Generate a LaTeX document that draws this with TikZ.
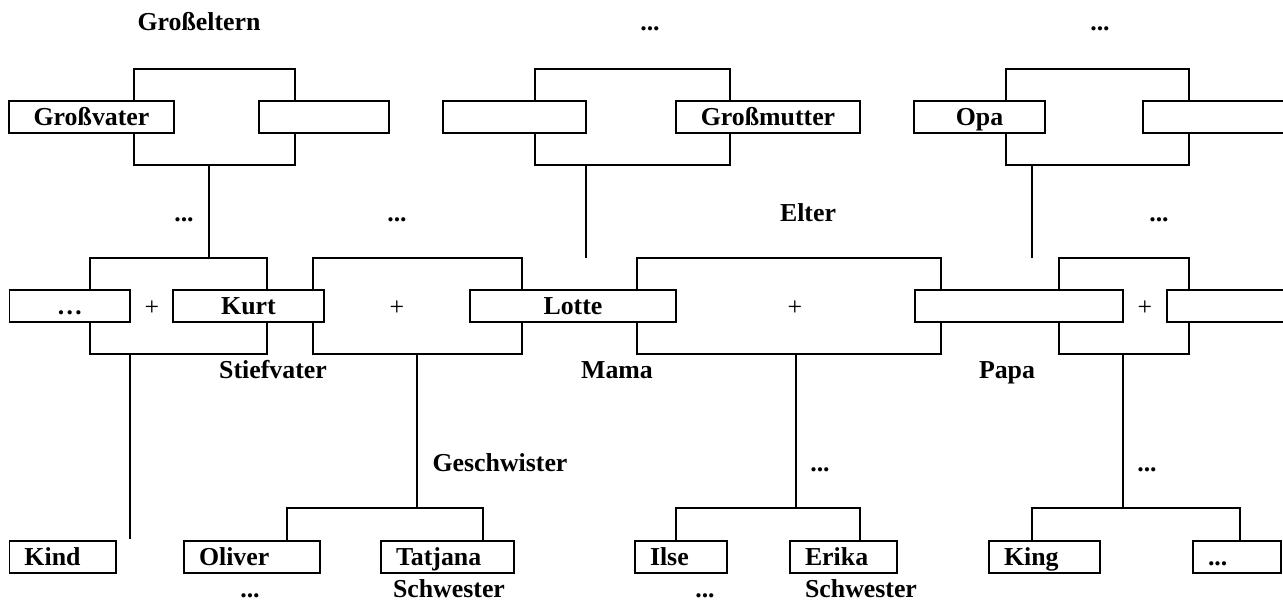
\documentclass[tikz,border=0pt]{standalone}
\usepackage{fontspec}
\setmainfont{Liberation Serif}
\usepackage{tikz}
\newcommand{\fsz}{\fontsize{14.7}{17}\selectfont}

\begin{document}
\begin{tikzpicture}[x=0.2mm, y=-0.2mm, line width=0.8pt,
    couple/.style={draw, minimum height=19.2mm, inner sep=0pt},
    box/.style={draw, fill=white, minimum height=6.4mm, inner sep=0pt,
      text height=9.7pt, text depth=0pt, font=\fsz\bfseries},
    kid/.style={box, align=left, inner xsep=3mm, text width=#1},
    lbl/.style={anchor=base, inner sep=0pt, font=\fsz\bfseries},
    plus/.style={inner sep=0pt, font=\fsz}]
      \useasboundingbox (0,0) rectangle (1283,600);
      \clip (0,0) rectangle (1283,600);

      % Großeltern
      \node[couple, minimum width=32.2mm] (gb1) at (214.5,117){};
      \node[couple, minimum width=39mm] (gb2) at (632.5,117){};
      \node[couple, minimum width=36.6mm] (gb3) at (1097.5,117){};
      \node[box, minimum width=33mm] (gv) at (91.5,117){Großvater};
      \node[box, minimum width=26mm] (gvx) at (324,117){};
      \node[box, minimum width=28.6mm] (gmx) at (514.5,117){};
      \node[box, minimum width=36.8mm] (gm) at (768,117){Großmutter};
      \node[box, minimum width=26.2mm] (opa) at (979.5,117){Opa};
      \node[box, minimum width=31.4mm] (omx) at (1221.5,117){};

      % Eltern
      \node[couple, minimum width=35.4mm] (mb1) at (178.5,306){};
      \node[couple, minimum width=41.8mm] (mb2) at (417.5,306){};
      \node[couple, minimum width=60.8mm] (mb3) at (789,306){};
      \node[couple, minimum width=26mm] (mb4) at (1124,306){};
      \node[box, minimum width=24.1mm] (ex) at (69.75,306){…};
      \node[box, minimum width=30.2mm] (kurt) at (248.5,306){Kurt};
      \node[box, minimum width=41.2mm] (lotte) at (573,306){Lotte};
      \node[box, minimum width=41.6mm] (papa) at (1019,306){};
      \node[box, minimum width=26.6mm] (px) at (1233.5,306){};
      \node[plus] (p1) at (152,308){+};
      \node[plus] (p2) at (397,308){+};
      \node[plus] (p3) at (795,308){+};
      \node[plus] (p4) at (1145,308){+};

      % Kinder
      \node[kid=15.3mm] (kind) at (62.75,557){Kind};
      \node[kid=21.2mm] (oliver) at (252,557){Oliver};
      \node[kid=20.6mm] (tatjana) at (447.5,557){Tatjana};
      \node[kid=12.4mm] (ilse) at (681,557){Ilse};
      \node[kid=15.4mm] (erika) at (843.5,557){Erika};
      \node[kid=16.2mm] (king) at (1044.5,557){King};
      \node[kid=11.6mm] (kx) at (1237,557){...};

      \coordinate (d1) at (209,0);
      \coordinate (e2) at (586,258);
      \coordinate (e3) at (1032,258);
      \coordinate (e4) at (130,539);
      \draw[-] (gb1.south -| d1) -- (mb1.north -| d1);
      \draw[-] (gb2.south -| e2) -- (e2);
      \draw[-] (gb3.south -| e3) -- (e3);
      \draw[-] (mb1.south -| e4) -- (e4);

      \coordinate (k2) at (417,508);
      \coordinate (k3) at (796,508);
      \coordinate (k4) at (1123,508);
      \coordinate (j1) at (287,508);
      \coordinate (j2) at (483,508);
      \coordinate (j3) at (676,508);
      \coordinate (j4) at (860,508);
      \coordinate (j5) at (1032,508);
      \coordinate (j6) at (1240,508);
      \draw[-] (mb2.south -| k2) -- (k2);
      \draw[-] (mb3.south -| k3) -- (k3);
      \draw[-] (mb4.south -| k4) -- (k4);
      \draw[-] (oliver.north -| j1) -- (j1) -- (j2) -- (tatjana.north -| j2);
      \draw[-] (ilse.north -| j3) -- (j3) -- (j4) -- (erika.north -| j4);
      \draw[-] (king.north -| j5) -- (j5) -- (j6) -- (kx.north -| j6);

      \node[lbl] (l1) at (199,30.5){Großeltern};
      \node[lbl] (l2) at (650,30.5){...};
      \node[lbl] (l3) at (1100,30.5){...};
      \node[lbl] (l4) at (184,221.5){...};
      \node[lbl] (l5) at (397,221.5){...};
      \node[lbl] (l6) at (808,221.5){Elter};
      \node[lbl] (l7) at (1159,221.5){...};
      \node[lbl] (l8) at (273,379){Stiefvater};
      \node[lbl] (l9) at (617,379){Mama};
      \node[lbl] (l10) at (1007,379){Papa};
      \node[lbl] (l11) at (500,471){Geschwister};
      \node[lbl] (l12) at (820,471){...};
      \node[lbl] (l13) at (1147,471){...};
      \node[lbl] (l14) at (250,597){...};
      \node[lbl] (l15) at (449,597){Schwester};
      \node[lbl] (l16) at (705,597){...};
      \node[lbl] (l17) at (861,597){Schwester};
    \end{tikzpicture}
\end{document}
